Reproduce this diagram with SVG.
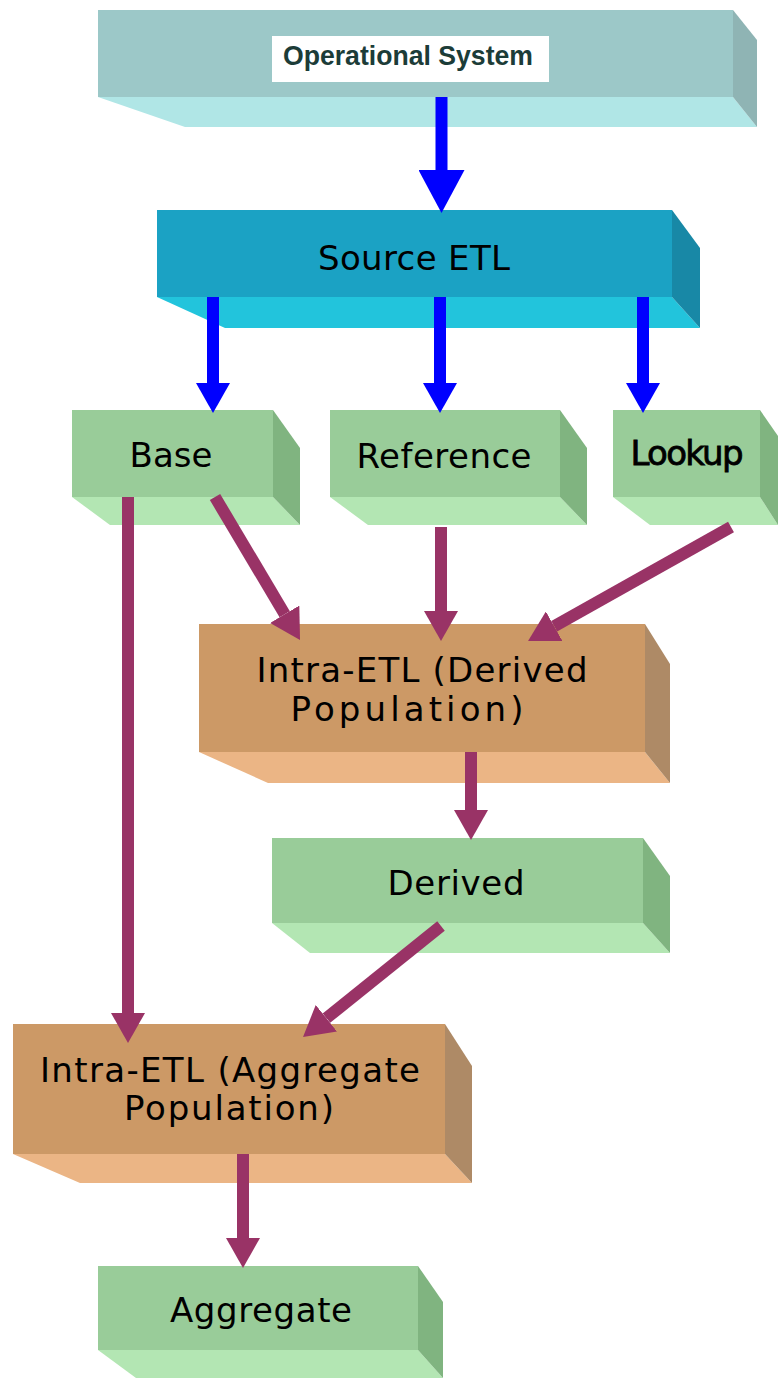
<svg xmlns="http://www.w3.org/2000/svg" width="778" height="1378" viewBox="0 0 778 1378">
<style>
.lbl{font-family:"DejaVu Sans","Verdana",sans-serif;font-size:34px;fill:#000;}
.gf{fill:#99cc99;} .gb{fill:#b3e6b3;} .gs{fill:#80b480;}
.tf{fill:#cc9966;} .tb{fill:#ebb585;} .ts{fill:#ae8a66;}
.blue{stroke:#0000ff;stroke-width:12;fill:none;}
.pur{stroke:#993366;stroke-width:12;fill:none;}
</style>
<defs>
<marker id="hb" markerUnits="userSpaceOnUse" markerWidth="30" markerHeight="34" refX="0" refY="17" orient="auto"><path d="M0,0 L30,17 L0,34 z" fill="#0000ff"/></marker>
<marker id="hbL" markerUnits="userSpaceOnUse" markerWidth="43" markerHeight="46" refX="0" refY="23" orient="auto"><path d="M0,0 L43,23 L0,46 z" fill="#0000ff"/></marker>
<marker id="hp" markerUnits="userSpaceOnUse" markerWidth="30" markerHeight="34" refX="0" refY="17" orient="auto"><path d="M0,0 L30,17 L0,34 z" fill="#993366"/></marker>
</defs>
<rect width="778" height="1378" fill="#ffffff"/>

<g id="operational-system">
<polygon points="98,97 733,97 757,127 185,127" fill="#b0e6e6"/>
<polygon points="733,10 757,40 757,127 733,97" fill="#8fb4b4"/>
<rect x="98" y="10" width="635" height="87" fill="#9cc8c8"/>
<rect x="272" y="36" width="277" height="46" fill="#ffffff"/>
<text x="408" y="65" text-anchor="middle" font-family="Liberation Sans, Arial, sans-serif" font-weight="bold" font-size="27" fill="#1c3c38" textLength="250" lengthAdjust="spacingAndGlyphs">Operational System</text>
</g>

<g id="source-etl">
<polygon points="157,297 672,297 700,328 225,328" fill="#22c4dc"/>
<polygon points="672,210 700,248 700,328 672,297" fill="#1888a6"/>
<rect x="157" y="210" width="515" height="87" fill="#1ba2c4"/>
<text class="lbl" x="414" y="270" text-anchor="middle" textLength="192" lengthAdjust="spacing">Source ETL</text>
</g>

<g id="base">
<polygon points="72,497 273,497 300,525 110,525" class="gb"/>
<polygon points="273,410 300,448 300,525 273,497" class="gs"/>
<rect x="72" y="410" width="201" height="87" class="gf"/>
<text class="lbl" x="171" y="467" text-anchor="middle" textLength="83" lengthAdjust="spacing">Base</text>
</g>

<g id="reference">
<polygon points="330,497 560,497 587,525 368,525" class="gb"/>
<polygon points="560,410 587,448 587,525 560,497" class="gs"/>
<rect x="330" y="410" width="230" height="87" class="gf"/>
<text class="lbl" x="444" y="468" text-anchor="middle" textLength="175" lengthAdjust="spacing">Reference</text>
</g>

<g id="lookup">
<polygon points="613,497 760,497 778,525 650,525" class="gb"/>
<polygon points="760,410 778,436 778,525 760,497" class="gs"/>
<rect x="613" y="410" width="147" height="87" class="gf"/>
<text class="lbl" x="687" y="465" text-anchor="middle" font-size="31" stroke="#000" stroke-width="0.8" textLength="113" lengthAdjust="spacing">Lookup</text>
</g>

<g id="intra-etl-derived">
<polygon points="199,752 645,752 670,783 268,783" class="tb"/>
<polygon points="645,624 670,664 670,783 645,752" class="ts"/>
<rect x="199" y="624" width="446" height="128" class="tf"/>
<text class="lbl" x="422" y="682" text-anchor="middle" textLength="331" lengthAdjust="spacing">Intra-ETL (Derived</text>
<text class="lbl" x="407" y="721" text-anchor="middle" textLength="233" lengthAdjust="spacing">Population)</text>
</g>

<g id="derived">
<polygon points="272,923 643,923 670,953 310,953" class="gb"/>
<polygon points="643,838 670,876 670,953 643,923" class="gs"/>
<rect x="272" y="838" width="371" height="85" class="gf"/>
<text class="lbl" x="456" y="895" text-anchor="middle" textLength="137" lengthAdjust="spacing">Derived</text>
</g>

<g id="intra-etl-aggregate">
<polygon points="13,1154 445,1154 472,1183 80,1183" class="tb"/>
<polygon points="445,1024 472,1066 472,1183 445,1154" class="ts"/>
<rect x="13" y="1024" width="432" height="130" class="tf"/>
<text class="lbl" x="230" y="1082" text-anchor="middle" textLength="380" lengthAdjust="spacing">Intra-ETL (Aggregate</text>
<text class="lbl" x="229" y="1120" text-anchor="middle" textLength="210" lengthAdjust="spacing">Population)</text>
</g>

<g id="aggregate">
<polygon points="98,1350 418,1350 443,1378 136,1378" class="gb"/>
<polygon points="418,1266 443,1302 443,1378 418,1350" class="gs"/>
<rect x="98" y="1266" width="320" height="84" class="gf"/>
<text class="lbl" x="261" y="1322" text-anchor="middle" textLength="182" lengthAdjust="spacing">Aggregate</text>
</g>

<g id="connectors">
<line x1="441.5" y1="97" x2="441.5" y2="170" class="blue" stroke-width="16" marker-end="url(#hbL)"/>
<line x1="213" y1="297" x2="213" y2="383" class="blue" marker-end="url(#hb)"/>
<line x1="440" y1="297" x2="440" y2="383" class="blue" marker-end="url(#hb)"/>
<line x1="643" y1="297" x2="643" y2="383" class="blue" marker-end="url(#hb)"/>
<line x1="128" y1="497" x2="128" y2="1013" class="pur" marker-end="url(#hp)"/>
<line x1="215" y1="497" x2="284.7" y2="614.2" class="pur" marker-end="url(#hp)"/>
<line x1="441" y1="527" x2="441" y2="611" class="pur" marker-end="url(#hp)"/>
<line x1="731" y1="527" x2="554.2" y2="626.3" class="pur" marker-end="url(#hp)"/>
<line x1="471" y1="752" x2="471" y2="810" class="pur" marker-end="url(#hp)"/>
<line x1="441" y1="926" x2="326.4" y2="1018.2" class="pur" marker-end="url(#hp)"/>
<line x1="243" y1="1154" x2="243" y2="1238" class="pur" marker-end="url(#hp)"/>
</g>
</svg>
